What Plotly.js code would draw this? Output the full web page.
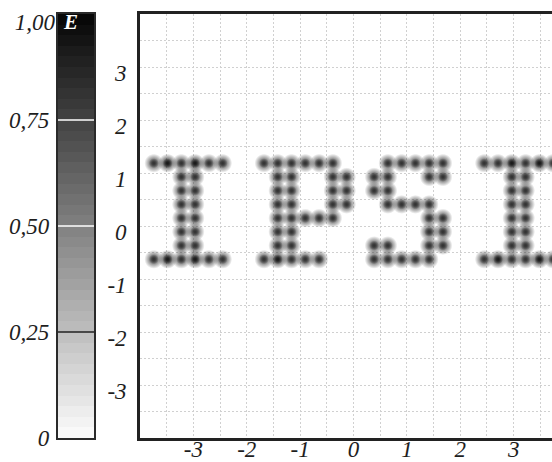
<!DOCTYPE html>
<html><head><meta charset="utf-8">
<script src="https://cdn.plot.ly/plotly-3.0.1.min.js"></script>
<style>html,body{margin:0;padding:0;overflow:hidden;background:#fff}#chart{width:580px;height:462px}</style>
</head><body><div id="chart"></div>
<script>
// ---- data ----
const letterNames = ['I', 'P', 'S', 'I'];
const letterStartX = [-3.741, -1.677, 0.386, 2.450];
const columnStep = 0.258;
const rowY = [1.185, 0.926, 0.667, 0.408, 0.149, -0.110, -0.369, -0.628];
const glyphI1 = ['#9#9##', '..##..', '..##..', '..##..', '..##..', '..##..', '..##..', '#9#9##'];
const glyphP  = ['######.', '.##..##', '.##..##', '.##..##', '.#####.', '.##....', '.##....', '#9###..'];
const glyphS  = ['.#####', '##..##', '##....', '.####.', '....##', '....##', '##..##', '#####.'];
const glyphI2 = ['##9#9#', '..##..', '..##..', '..##..', '..##..', '..##..', '..##..', '#9##9#'];
const glyphs = [glyphI1, glyphP, glyphS, glyphI2];
const dotLevel = {'#': 0.80, '9': 0.90};

const xTickVals = [-3, -2, -1, 0, 1, 2, 3];
const xTickText = ['-3', '-2', '-1', '0', '1', '2', '3'];
const yTickVals = [3, 2, 1, 0, -1, -2, -3];
const yTickText = ['3', '2', '1', '0', '-1', '-2', '-3'];
const cbTickVals = [0, 0.25, 0.5, 0.75];
const cbTickText = ['0', '0,25', '0,50', '0,75'];
const cbTopVals = [1];
const cbTopText = ['1,00'];
const cbBandCount = 40;
const cbTitle = 'E';

// ---- build dots ----
const dotX = [], dotY = [], dotE = [];
glyphs.forEach((g, li) => {
  g.forEach((row, ri) => {
    for (let ci = 0; ci < row.length; ci++) {
      const ch = row[ci];
      if (ch !== '.') {
        dotX.push(letterStartX[li] + ci * columnStep);
        dotY.push(rowY[ri]);
        dotE.push(dotLevel[ch]);
      }
    }
  });
});
const grayOf = (e, a) => { const v = Math.round(255 * (1 - e)); return `rgba(${v},${v},${v},${a})`; };
const dotCenterColor = dotE.map(e => grayOf(e, 1));
const dotEdgeColor = dotE.map(e => grayOf(e, 0));

// colour bar bands
const bandY = [], bandZ = [];
for (let i = 0; i < cbBandCount; i++) {
  const c = (i + 0.5) / cbBandCount;
  bandY.push(c); bandZ.push([c]);
}
const grayScale = [[0, 'rgb(252,252,252)'], [1, 'rgb(5,5,5)']];

const W = 580, H = 462;
const ml = 58, mr = 13, mt = 14, mb = 24;
const plotW = W - ml - mr;
const mainLeft = (140 - ml) / plotW;
const cbRight = (94 - ml) / plotW;

const serif = 'Liberation Serif';
const tickFont = {family: serif, size: 23, color: '#1e1e1e'};
const ital = s => '<i>' + s + '</i>';

const dotTrace = (size) => ({
  type: 'scatter', mode: 'markers', x: dotX, y: dotY, xaxis: 'x', yaxis: 'y',
  hoverinfo: 'skip',
  marker: {size: size, color: dotEdgeColor, line: {width: 0},
           gradient: {type: 'radial', color: dotCenterColor}}
});

const traces = [
  dotTrace(19),
  dotTrace(10),
  {
    type: 'heatmap', x: [0.5], y: bandY, z: bandZ, xaxis: 'x2', yaxis: 'y2',
    colorscale: grayScale, zmin: 0, zmax: 1, showscale: false, zsmooth: false, hoverinfo: 'skip'
  },
  {
    type: 'scatter', mode: 'markers', x: [0.5], y: [0.5], xaxis: 'x2', yaxis: 'y3',
    marker: {opacity: 0}, hoverinfo: 'skip', showlegend: false
  }
];

const gridColor = '#d0d0d0';
const shapes = cbTickVals.filter(v => v > 0).map(v => ({
  type: 'line', xref: 'x2', yref: 'y2', x0: 0, x1: 1, y0: v, y1: v,
  line: {color: v >= 0.5 ? '#ffffff' : '#222222', width: 1.6}
}));

const layout = {
  width: W, height: H,
  margin: {l: ml, r: mr, t: mt, b: mb, pad: 0},
  paper_bgcolor: '#fff', plot_bgcolor: '#fff',
  showlegend: false,
  xaxis: {
    domain: [mainLeft, 1], range: [-4, 4], anchor: 'y',
    tickvals: xTickVals, ticktext: xTickText.map(ital), ticks: '', tickfont: tickFont,
    ticklabelstandoff: -11,
    showgrid: true, gridcolor: gridColor, griddash: '2px,2px', gridwidth: 1,
    minor: {dtick: 0.5, tick0: 0, showgrid: true, gridcolor: gridColor, griddash: '2px,2px', gridwidth: 1},
    zeroline: false, showline: true, mirror: true, linewidth: 2.8, linecolor: '#222', fixedrange: true
  },
  yaxis: {
    domain: [0, 1], range: [-4, 4], anchor: 'x',
    tickvals: yTickVals, ticktext: yTickText.map(ital), ticks: '', tickfont: tickFont,
    ticklabelstandoff: 6, ticklabelshift: 6,
    showgrid: true, gridcolor: gridColor, griddash: '2px,2px', gridwidth: 1,
    minor: {dtick: 0.5, tick0: 0, showgrid: true, gridcolor: gridColor, griddash: '2px,2px', gridwidth: 1},
    zeroline: false, showline: true, mirror: true, linewidth: 2.8, linecolor: '#222', fixedrange: true
  },
  xaxis2: {
    domain: [0, cbRight], range: [0, 1], anchor: 'y2',
    showticklabels: false, ticks: '', showgrid: false, zeroline: false,
    showline: true, mirror: true, linewidth: 2.2, linecolor: '#2a2a2a', fixedrange: true
  },
  yaxis2: {
    domain: [0, 1], range: [0, 1], anchor: 'x2',
    tickvals: cbTickVals, ticktext: cbTickText.map(ital), ticks: '', tickfont: tickFont,
    ticklabelstandoff: 2,
    showgrid: false, zeroline: false, showline: true, mirror: true, linewidth: 2.2, linecolor: '#2a2a2a', fixedrange: true
  },
  yaxis3: {
    overlaying: 'y2', range: [0, 1], anchor: 'x2', side: 'left',
    tickvals: cbTopVals, ticktext: cbTopText.map(ital), ticks: '', tickfont: tickFont,
    ticklabelstandoff: 2, ticklabelshift: 8,
    showgrid: false, zeroline: false, showline: false, fixedrange: true
  },
  shapes: shapes,
  annotations: [{
    xref: 'x2', yref: 'y2', x: 0.36, y: 0.982, text: '<b><i>' + cbTitle + '</i></b>', showarrow: false,
    font: {family: serif, size: 21, color: '#fff'}
  }]
};

Plotly.newPlot('chart', traces, layout, {displayModeBar: false, staticPlot: true});
</script>
</body></html>
